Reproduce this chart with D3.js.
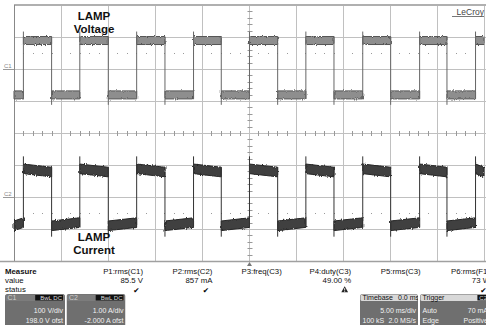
<!DOCTYPE html>
<html>
<head>
<meta charset="utf-8">
<script src="https://cdn.jsdelivr.net/npm/d3@7"></script>
<style>
  body { margin: 0; background: #fff; }
  svg { display: block; font-family: "Liberation Sans", Arial, sans-serif; }
</style>
</head>
<body>
<svg id="chart" width="486" height="325"></svg>
<script>
// time base: 5 ms/div, 10 divisions, trigger at 0
const timeTicks = [-25, -20, -15, -10, -5, 0, 5, 10, 15, 20, 25];
const risingEdges = [-24.0, -18.0, -11.95, -5.9, 0.05, 6.05, 12.1, 18.15, 24.1];   // ms
const fallingEdges = [-21.0, -14.97, -8.94, -2.95, 3.05, 9.04, 15.07, 21.06];      // ms

// C1 lamp voltage (V): high/low level at start and end of each pulse
const c1High = [89, 89];
const c1Low = [-81, -81];
const c1Spikes = [117, -112];   // overshoot on rise, undershoot on fall
const c1Noise = 25;             // peak-to-peak

// C2 lamp current (A)
const c2High = [0.88, 0.78];
const c2Low = [-0.9, -0.8];
const c2Spikes = [1.27, -1.24];
const c2Noise = 0.3;

const c1Ticks = [-200, -100, 0, 100, 200];
const c2Ticks = [-2, -1, 0, 1, 2];

const measureNames = ['P1:rms(C1)', 'P2:rms(C2)', 'P3:freq(C3)', 'P4:duty(C3)', 'P5:rms(C3)', 'P6:rms(F1)'];
const measureValues = ['85.5 V', '857 mA', '', '49.00 %', '', '73 W'];
const measureStatus = ['ok', 'ok', '', 'warn', '', 'ok'];

const plot = {left: 14, right: 484, top: 5, mid: 133, bottom: 261};

const svg = d3.select('#chart');

const x = d3.scaleLinear().domain([-25, 25]).range([plot.left, plot.right]);
const y1 = d3.scaleLinear().domain([-200, 200]).range([plot.mid, plot.top]);
const y2 = d3.scaleLinear().domain([-2, 2]).range([plot.bottom, plot.mid]);

const defs = svg.append('defs');
const filt = defs.append('filter').attr('id', 'noise')
  .attr('x', '-1%').attr('y', '-20%').attr('width', '102%').attr('height', '140%');
filt.append('feTurbulence').attr('type', 'fractalNoise')
  .attr('baseFrequency', '1.1 0.2').attr('numOctaves', 2).attr('seed', 4).attr('result', 't');
filt.append('feDisplacementMap').attr('in', 'SourceGraphic').attr('in2', 't')
  .attr('scale', 3).attr('xChannelSelector', 'A').attr('yChannelSelector', 'R');

// ---- grid ----
const grid = svg.append('g').attr('stroke', '#c0c0c0').attr('stroke-width', 1).attr('shape-rendering', 'crispEdges');
grid.selectAll('line.v').data(timeTicks).join('line')
  .attr('x1', (d) => Math.round(x(d)) + 0.5).attr('x2', (d) => Math.round(x(d)) + 0.5)
  .attr('y1', plot.top).attr('y2', plot.bottom);
grid.selectAll('line.h1').data(c1Ticks).join('line')
  .attr('x1', plot.left).attr('x2', 486)
  .attr('y1', (d) => Math.round(y1(d)) + 0.5).attr('y2', (d) => Math.round(y1(d)) + 0.5);
grid.selectAll('line.h2').data(c2Ticks).join('line')
  .attr('x1', plot.left).attr('x2', 486)
  .attr('y1', (d) => Math.round(y2(d)) + 0.5).attr('y2', (d) => Math.round(y2(d)) + 0.5);

// outer frame
svg.append('line').attr('x1', plot.left).attr('x2', 486).attr('y1', plot.top).attr('y2', plot.top)
  .attr('stroke', '#b0b0b0').attr('stroke-width', 2);
svg.append('line').attr('x1', plot.left + 0.5).attr('x2', plot.left + 0.5).attr('y1', plot.top).attr('y2', plot.bottom)
  .attr('stroke', '#888');
svg.append('line').attr('x1', 0).attr('x2', 486).attr('y1', plot.bottom + 0.5).attr('y2', plot.bottom + 0.5)
  .attr('stroke', '#a0a0a0').attr('stroke-width', 1.5);

// centre cross ticks
const minorT = d3.range(-25, 25.01, 1).filter((t) => t % 5 !== 0);
svg.append('g').attr('stroke', '#999').selectAll('line').data(minorT).join('line')
  .attr('x1', (d) => Math.round(x(d)) + 0.5).attr('x2', (d) => Math.round(x(d)) + 0.5)
  .attr('y1', plot.mid - 2).attr('y2', plot.mid + 3);
const minorV = d3.range(-200, 200.1, 20).filter((v) => v % 100 !== 0);
const cx = Math.round(x(0)) + 0.5;
svg.append('g').attr('stroke', '#999').selectAll('line').data(minorV).join('line')
  .attr('x1', cx - 2).attr('x2', cx + 3)
  .attr('y1', (d) => Math.round(y1(d)) + 0.5).attr('y2', (d) => Math.round(y1(d)) + 0.5);
svg.append('g').attr('stroke', '#999').selectAll('line').data(minorV.map((v) => v / 100)).join('line')
  .attr('x1', cx - 2).attr('x2', cx + 3)
  .attr('y1', (d) => Math.round(y2(d)) + 0.5).attr('y2', (d) => Math.round(y2(d)) + 0.5);

// dotted reference rows
[y1(50), y2(-0.5)].forEach((yy) => {
  svg.append('g').attr('fill', '#9a9a9a').selectAll('rect').data(minorT).join('rect')
    .attr('x', (d) => Math.round(x(d))).attr('y', Math.round(yy)).attr('width', 1).attr('height', 1);
});

// channel markers
[['C1', y1(0)], ['C2', y2(0)]].forEach(([name, yy]) => {
  svg.append('text').attr('x', 4).attr('y', yy - 1.5).attr('font-size', 6).attr('fill', '#888').text(name);
  svg.append('line').attr('x1', 3).attr('x2', plot.left).attr('y1', yy + 0.5).attr('y2', yy + 0.5)
    .attr('stroke', '#999');
});

// ---- traces ----
function segments(high, low) {
  const edges = risingEdges.map((t) => ({t, up: true}))
    .concat(fallingEdges.map((t) => ({t, up: false})))
    .sort((a, b) => a.t - b.t);
  const segs = [];
  let t0 = -25, isHigh = false;
  for (const e of edges) {
    segs.push({t0, t1: e.t, lv: isHigh ? high : low});
    t0 = e.t; isHigh = e.up;
  }
  segs.push({t0, t1: 25, lv: isHigh ? high : low});
  return segs;
}

function drawTrace(y, high, low, spikes, noise, fill, stroke, edge) {
  const g = svg.append('g');
  const segs = segments(high, low);
  g.append('g').attr('filter', 'url(#noise)')
    .selectAll('polygon').data(segs).join('polygon')
    .attr('points', (s) => [
      [x(s.t0), y(s.lv[0] + noise / 2)], [x(s.t1), y(s.lv[1] + noise / 2)],
      [x(s.t1), y(s.lv[1] - noise / 2)], [x(s.t0), y(s.lv[0] - noise / 2)]
    ].join(' '))
    .attr('fill', fill).attr('stroke', stroke).attr('stroke-width', 1);
  g.append('g').attr('stroke', edge).attr('stroke-width', 1)
    .selectAll('line.r').data(risingEdges).join('line')
    .attr('x1', (d) => x(d)).attr('x2', (d) => x(d))
    .attr('y1', y(low[1] - noise / 2)).attr('y2', y(spikes[0]));
  g.append('g').attr('stroke', edge).attr('stroke-width', 1)
    .selectAll('line.f').data(fallingEdges).join('line')
    .attr('x1', (d) => x(d)).attr('x2', (d) => x(d))
    .attr('y1', y(high[1] + noise / 2)).attr('y2', y(spikes[1]));
}

drawTrace(y1, c1High, c1Low, c1Spikes, c1Noise, '#8e8e8e', '#555', '#666');
drawTrace(y2, c2High, c2Low, c2Spikes, c2Noise, '#404040', '#252525', '#333');

// trigger marker
svg.append('path').attr('d', `M${cx},${plot.bottom + 1}l-2.5,4h5z`).attr('fill', '#777');

// ---- annotations ----
const ann = svg.append('g').attr('font-weight', 'bold').attr('font-size', 11.5).attr('fill', '#111')
  .attr('text-anchor', 'middle');
ann.append('text').attr('x', 94).attr('y', 19.5).text('LAMP');
ann.append('text').attr('x', 94).attr('y', 33).text('Voltage');
ann.append('text').attr('x', 94).attr('y', 241).text('LAMP');
ann.append('text').attr('x', 94).attr('y', 253.5).text('Current');

svg.append('text').attr('x', 484).attr('y', 15).attr('text-anchor', 'end')
  .attr('font-size', 8.5).attr('fill', '#444').text('LeCroy');
svg.append('line').attr('x1', 452).attr('x2', 484).attr('y1', 16.5).attr('y2', 16.5)
  .attr('stroke', '#555').attr('stroke-width', 0.8);

// ---- measure panel ----
const mp = svg.append('g').attr('font-size', 7.8).attr('fill', '#111');
mp.append('text').attr('x', 5).attr('y', 273.5).attr('font-weight', 'bold').text('Measure');
mp.append('text').attr('x', 5).attr('y', 283).text('value');
mp.append('text').attr('x', 5).attr('y', 291.5).text('status');
const colRight = (i) => 143 + i * 69.4;
mp.selectAll('text.n').data(measureNames).join('text').attr('class', 'n')
  .attr('x', (d, i) => colRight(i)).attr('y', 273.5).attr('text-anchor', 'end').text((d) => d);
mp.selectAll('text.v').data(measureValues).join('text').attr('class', 'v')
  .attr('x', (d, i) => colRight(i)).attr('y', 283).attr('text-anchor', 'end').text((d) => d);
measureStatus.forEach((s, i) => {
  const sx = colRight(i) - 6.5;
  if (s === 'ok') {
    mp.append('text').attr('x', sx).attr('y', 292.5).attr('text-anchor', 'middle')
      .attr('font-family', '"DejaVu Sans", sans-serif').attr('font-size', 7.5)
      .attr('fill', '#000').text('\u2714');
  } else if (s === 'warn') {
    mp.append('path').attr('d', `M${sx},286.3l3.4,6h-6.8z`).attr('fill', '#222');
    mp.append('rect').attr('x', sx - 0.45).attr('y', 288.2).attr('width', 0.9).attr('height', 2.3).attr('fill', '#fff');
    mp.append('rect').attr('x', sx - 0.45).attr('y', 291).attr('width', 0.9).attr('height', 0.8).attr('fill', '#fff');
  }
});

// descriptor boxes
function box(id, x0, w, hdr, badge, rows, lightHeader) {
  defs.append('clipPath').attr('id', id).append('rect')
    .attr('x', x0).attr('y', 294).attr('width', w).attr('height', 36);
  const g = svg.append('g').attr('font-size', 7).attr('clip-path', `url(#${id})`);
  g.append('rect').attr('x', x0).attr('y', 294).attr('width', w).attr('height', 36).attr('rx', 2.5)
    .attr('fill', '#6f6f6f');
  g.append('rect').attr('x', x0 + 0.5).attr('y', 294.5).attr('width', w - 1).attr('height', 6.5)
    .attr('rx', 1.5).attr('fill', lightHeader ? '#d8d8d8' : '#7c7c7c');
  g.append('text').attr('x', x0 + 2.5).attr('y', 300.2).attr('fill', lightHeader ? '#111' : '#cfcfcf').text(hdr[0]);
  if (hdr[1]) {
    g.append('text').attr('x', x0 + w + 1).attr('y', 300.2).attr('text-anchor', 'end')
      .attr('fill', '#111').text(hdr[1]);
  }
  if (badge) {
    const bw = badge.length * 4.3 + 2;
    g.append('rect').attr('x', x0 + w - bw - 2).attr('y', 295).attr('width', bw).attr('height', 5.5)
      .attr('fill', '#111');
    g.append('text').attr('x', x0 + w - 3).attr('y', 299.8).attr('text-anchor', 'end')
      .attr('font-size', 6).attr('fill', '#ddd').text(badge);
  }
  rows.forEach((r, i) => {
    const yy = 313 + i * 10;
    if (r[0]) g.append('text').attr('x', x0 + 2.5).attr('y', yy).attr('fill', '#f2f2f2').text(r[0]);
    g.append('text').attr('x', x0 + w - 2).attr('y', yy).attr('text-anchor', 'end')
      .attr('fill', '#f2f2f2').text(r[1]);
  });
}

box('bC1', 5, 60, ['C1'], 'BwL DC', [['', '100 V/div'], ['', '198.0 V ofst']], false);
box('bC2', 66.5, 59, ['C2'], 'BwL DC', [['', '1.00 A/div'], ['', '-2.000 A ofst']], false);
box('bTb', 360, 58, ['Timebase', '0.0 ms'], null, [['', '5.00 ms/div'], ['100 kS', '2.0 MS/s']], true);
box('bTr', 420, 70, ['Trigger'], 'C2', [['Auto', '70 mA'], ['Edge', 'Positive']], true);
</script>
</body>
</html>
